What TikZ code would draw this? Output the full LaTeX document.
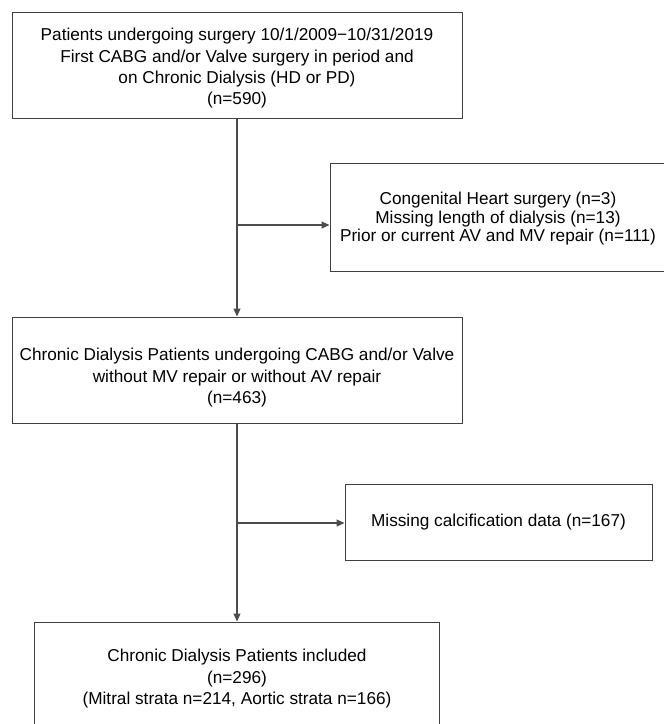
\documentclass[tikz,border=0pt]{standalone}
\usepackage{fontspec}
\setmainfont{Liberation Sans}
\usetikzlibrary{arrows.meta}

\begin{document}
\begin{tikzpicture}[x=1pt,y=-1pt,
	stagebox/.style={draw=black!75, line width=1pt, align=center, inner sep=0pt, font=\fontsize{17.2}{21.3}\selectfont},
	flow/.style={draw=black!70, line width=1.1pt, -{Triangle[length=8pt,width=7pt]}}]
	
	% Page frame
	\useasboundingbox (0,0) rectangle (664,724);
	\clip (0,0) rectangle (664,724);
	
	% Draw main boxes
	\node[stagebox, minimum width=450, minimum height=106] (cohort) at (237,65) {\rule{0pt}{19pt}Patients undergoing surgery 10/1/2009−10/31/2019\\First CABG and/or Valve surgery in period and\\on Chronic Dialysis (HD or PD)\\(n=590)};
	\node[stagebox, minimum width=450, minimum height=106] (eligible) at (237,370) {\rule{0pt}{28pt}Chronic Dialysis Patients undergoing CABG and/or Valve\\without MV repair or without AV repair\\(n=463)};
	\node[stagebox, minimum width=405, minimum height=110] (included) at (237,677) {\rule{0pt}{16pt}Chronic Dialysis Patients included\\(n=296)\\(Mitral strata n=214, Aortic strata n=166)};
	
	% Draw exclusion boxes
	\node[stagebox, minimum width=336, minimum height=108, font=\fontsize{17.2}{18.7}\selectfont] (excl1) at (498,217) {\rule{0pt}{16pt}Congenital Heart surgery (n=3)\\Missing length of dialysis (n=13)\\Prior or current AV and MV repair (n=111)};
	\node[stagebox, minimum width=307, minimum height=76] (excl2) at (498.5,522) {Missing calcification data (n=167)};
	
	% Branch points
	\coordinate (split1) at (237,225);
	\coordinate (split2) at (237,523);
	
	% Draw flow
	\draw[flow] (cohort) -- (eligible);
	\draw[flow] (eligible) -- (included);
	\draw[flow] (split1) -- (split1 -| excl1.west);
	\draw[flow] (split2) -- (split2 -| excl2.west);
	
\end{tikzpicture}
\end{document}
